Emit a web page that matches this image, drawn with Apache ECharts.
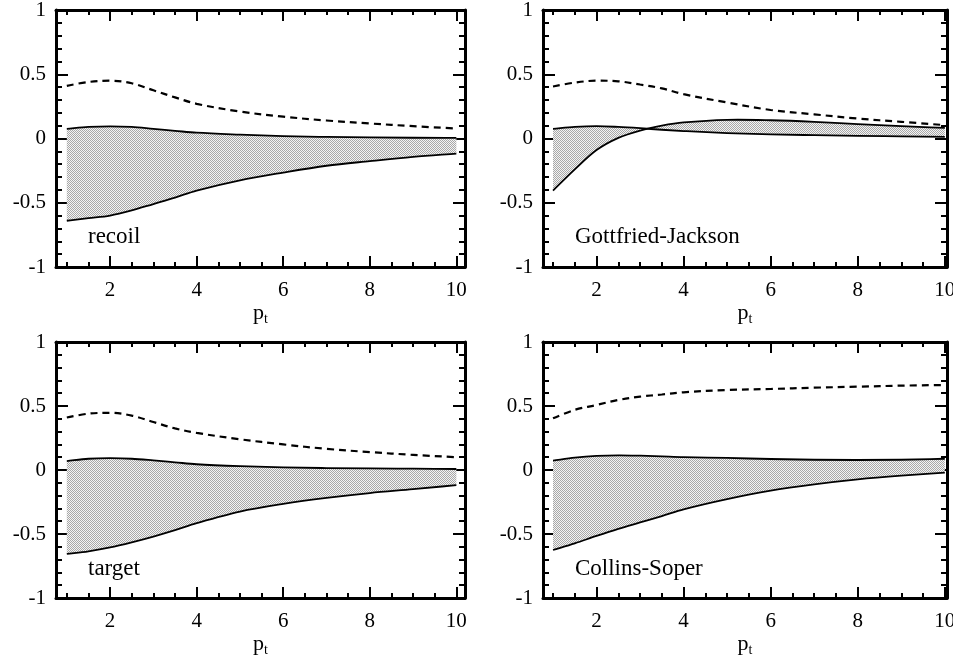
<!DOCTYPE html>
<html><head><meta charset="utf-8">
<script src="https://cdn.jsdelivr.net/npm/echarts@6/dist/echarts.min.js"></script>
<style>html,body{margin:0;padding:0;background:#fff}#c{width:953px;height:659px}</style>
</head><body><div id="c"></div>
<script>
// ---- data ----
const pt = [1, 1.5, 2, 2.5, 3, 3.5, 4, 5, 6, 7, 8, 9, 10];

const recoilDashed = [0.41, 0.44, 0.45, 0.43, 0.375, 0.32, 0.27, 0.21, 0.17, 0.14, 0.117, 0.096, 0.078];
const recoilUpper  = [0.075, 0.09, 0.095, 0.09, 0.075, 0.06, 0.045, 0.03, 0.018, 0.012, 0.008, 0.006, 0.005];
const recoilLower  = [-0.64, -0.62, -0.60, -0.56, -0.51, -0.46, -0.405, -0.325, -0.265, -0.212, -0.176, -0.143, -0.118];

const gjDashed = [0.405, 0.435, 0.45, 0.445, 0.42, 0.39, 0.345, 0.28, 0.222, 0.188, 0.155, 0.13, 0.104];
const gjUpper  = [0.075, 0.09, 0.096, 0.09, 0.08, 0.068, 0.058, 0.042, 0.032, 0.026, 0.021, 0.017, 0.013];
const gjLower  = [-0.405, -0.24, -0.09, 0.005, 0.062, 0.1, 0.125, 0.145, 0.142, 0.13, 0.112, 0.096, 0.083];

const targetDashed = [0.41, 0.44, 0.447, 0.425, 0.375, 0.325, 0.29, 0.24, 0.2, 0.165, 0.14, 0.118, 0.1];
const targetUpper  = [0.07, 0.088, 0.092, 0.088, 0.075, 0.06, 0.045, 0.03, 0.02, 0.015, 0.012, 0.01, 0.008];
const targetLower  = [-0.655, -0.635, -0.605, -0.565, -0.52, -0.47, -0.415, -0.325, -0.265, -0.218, -0.18, -0.15, -0.118];

const csDashed = [0.404, 0.47, 0.508, 0.547, 0.573, 0.59, 0.607, 0.625, 0.633, 0.643, 0.651, 0.659, 0.664];
const csUpper  = [0.073, 0.096, 0.11, 0.115, 0.112, 0.106, 0.1, 0.094, 0.086, 0.08, 0.078, 0.08, 0.088];
const csLower  = [-0.625, -0.573, -0.515, -0.46, -0.41, -0.36, -0.307, -0.227, -0.161, -0.112, -0.073, -0.044, -0.021];

const panelNames = ['recoil', 'Gottfried-Jackson', 'target', 'Collins-Soper'];
const xTickLabels = [2, 4, 6, 8, 10];
const xMinorTicks = [1, 1.5, 2, 2.5, 3, 3.5, 4, 4.5, 5, 5.5, 6, 6.5, 7, 7.5, 8, 8.5, 9, 9.5, 10];
const xAxisTitle = 'p';
const xAxisSub = 't';

// ---- layout / style ----
const FONT = '"Liberation Serif", "Times New Roman", serif';
const panels = [
  {dashed: recoilDashed, upper: recoilUpper, lower: recoilLower, grid: {left: 56, top: 10, width: 409, height: 257}, xmin: 0.75, xmax: 10.2, label: [88, 248]},
  {dashed: gjDashed, upper: gjUpper, lower: gjLower, grid: {left: 543, top: 10, width: 404, height: 257}, xmin: 0.77, xmax: 10.05, label: [575, 248]},
  {dashed: targetDashed, upper: targetUpper, lower: targetLower, grid: {left: 56, top: 342, width: 409, height: 256}, xmin: 0.75, xmax: 10.2, label: [88, 580]},
  {dashed: csDashed, upper: csUpper, lower: csLower, grid: {left: 543, top: 342, width: 404, height: 256}, xmin: 0.77, xmax: 10.05, label: [575, 580]}
];

// stipple pattern
const pc = document.createElement('canvas');
pc.width = 4; pc.height = 4;
const pctx = pc.getContext('2d');
for (let i = 0; i < 4; i++) for (let j = 0; j < 4; j++) {
  pctx.fillStyle = ((i + j) % 2 === 0) ? '#a8a8a8' : '#f4f4f4';
  pctx.fillRect(i, j, 1, 1);
}
const stipple = {image: pc, repeat: 'repeat'};

// smooth cubic path through pixel points (x increasing), tangents by finite differences
function curveSegments(P, start) {
  const n = P.length;
  const m = P.map((p, i) => {
    const a = P[Math.max(i - 1, 0)], b = P[Math.min(i + 1, n - 1)];
    return (b[1] - a[1]) / (b[0] - a[0]);
  });
  let d = start ? 'M' + P[0][0] + ' ' + P[0][1] : 'L' + P[0][0] + ' ' + P[0][1];
  for (let i = 0; i < n - 1; i++) {
    const h = (P[i + 1][0] - P[i][0]) / 3;
    d += ' C' + (P[i][0] + h) + ' ' + (P[i][1] + m[i] * h) + ' ' +
         (P[i + 1][0] - h) + ' ' + (P[i + 1][1] - m[i + 1] * h) + ' ' +
         P[i + 1][0] + ' ' + P[i + 1][1];
  }
  return d;
}
function curveSegmentsRev(P) {
  // same curve traversed backwards
  const n = P.length;
  const m = P.map((p, i) => {
    const a = P[Math.max(i - 1, 0)], b = P[Math.min(i + 1, n - 1)];
    return (b[1] - a[1]) / (b[0] - a[0]);
  });
  let d = ' L' + P[n - 1][0] + ' ' + P[n - 1][1];
  for (let i = n - 1; i > 0; i--) {
    const h = (P[i][0] - P[i - 1][0]) / 3;
    d += ' C' + (P[i][0] - h) + ' ' + (P[i][1] - m[i] * h) + ' ' +
         (P[i - 1][0] + h) + ' ' + (P[i - 1][1] + m[i - 1] * h) + ' ' +
         P[i - 1][0] + ' ' + P[i - 1][1];
  }
  return d;
}

const grids = [], xAxes = [], yAxes = [], series = [], graphics = [];
panels.forEach((p, g) => {
  grids.push(Object.assign({show: false, containLabel: false, outerBoundsMode: 'none'}, p.grid));
  const base = {gridIndex: g, type: 'value', min: p.xmin, max: p.xmax, splitLine: {show: false}};
  const line = {show: true, onZero: false, lineStyle: {color: '#000', width: 3}};
  const noLine = {show: false, onZero: false};
  xAxes.push(Object.assign({}, base, {
    position: 'bottom', axisLine: line,
    axisTick: {show: true, inside: true, length: 11, customValues: xTickLabels, lineStyle: {color: '#000', width: 2}},
    axisLabel: {show: true, customValues: xTickLabels, margin: 13, fontSize: 21, fontFamily: FONT, color: '#000'},
    name: '{p|' + xAxisTitle + '}{t|' + xAxisSub + '}', nameLocation: 'middle', nameGap: 20,
    nameTextStyle: {rich: {
      p: {fontSize: 22, fontFamily: FONT, color: '#000', lineHeight: 26},
      t: {fontSize: 14, fontFamily: FONT, color: '#000', lineHeight: 26, verticalAlign: 'bottom', padding: [10, 0, 0, 0]}
    }}
  }));
  xAxes.push(Object.assign({}, base, {
    position: 'bottom', axisLine: noLine,
    axisTick: {show: true, inside: true, length: 5, customValues: xMinorTicks, lineStyle: {color: '#000', width: 2}},
    axisLabel: {show: false}
  }));
  xAxes.push(Object.assign({}, base, {
    position: 'top', axisLine: line,
    axisTick: {show: true, inside: true, length: 11, customValues: xTickLabels, lineStyle: {color: '#000', width: 2}},
    axisLabel: {show: false}
  }));
  xAxes.push(Object.assign({}, base, {
    position: 'top', axisLine: noLine,
    axisTick: {show: true, inside: true, length: 5, customValues: xMinorTicks, lineStyle: {color: '#000', width: 2}},
    axisLabel: {show: false}
  }));
  const ybase = {gridIndex: g, type: 'value', min: -1, max: 1, interval: 0.5, splitLine: {show: false},
    axisLine: line,
    axisTick: {show: true, inside: true, length: 12, lineStyle: {color: '#000', width: 2}},
    minorTick: {show: true, splitNumber: 5, length: 6, lineStyle: {color: '#000', width: 2}}};
  yAxes.push(Object.assign({}, ybase, {position: 'left',
    axisLabel: {show: true, margin: 10, fontSize: 21, fontFamily: FONT, color: '#000'}}));
  yAxes.push(Object.assign({}, ybase, {position: 'right', axisLabel: {show: false}}));

  const xi = g * 4, yi = g * 2;
  // band between the two solid curves + the curves themselves
  series.push({
    type: 'custom', xAxisIndex: xi, yAxisIndex: yi, silent: true, animation: false, z: 2,
    data: pt.map((x, i) => [x, p.upper[i], p.lower[i]]),
    renderItem: function (params, api) {
      if (params.dataIndex !== 0) return null;
      const n = pt.length;
      const U = [], L = [];
      for (let i = 0; i < n; i++) {
        U.push(api.coord([api.value(0, i), api.value(1, i)]));
        L.push(api.coord([api.value(0, i), api.value(2, i)]));
      }
      const fillPath = curveSegments(U, true) + curveSegmentsRev(L) + ' Z';
      return {type: 'group', children: [
        {type: 'path', shape: {pathData: fillPath}, style: {fill: stipple, stroke: null}},
        {type: 'path', shape: {pathData: curveSegments(U, true)}, style: {fill: null, stroke: '#000', lineWidth: 1.8}},
        {type: 'path', shape: {pathData: curveSegments(L, true)}, style: {fill: null, stroke: '#000', lineWidth: 1.8}}
      ]};
    }
  });
  // dashed curve
  series.push({type: 'line', xAxisIndex: xi, yAxisIndex: yi, symbol: 'none', smooth: 0.35, silent: true, animation: false,
    data: pt.map((x, i) => [x, p.dashed[i]]), lineStyle: {color: '#000', width: 2.2, type: [7, 5]}, z: 3});

  graphics.push({type: 'text', x: p.label[0], y: p.label[1], z: 10,
    style: {text: panelNames[g], fontSize: 23, fontFamily: FONT, fill: '#000', verticalAlign: 'bottom', align: 'left'}});
});

const chart = echarts.init(document.getElementById('c'), null, {renderer: 'canvas'});
chart.setOption({
  backgroundColor: '#fff',
  animation: false,
  grid: grids,
  xAxis: xAxes,
  yAxis: yAxes,
  series: series,
  graphic: graphics
});
</script>
</body></html>
